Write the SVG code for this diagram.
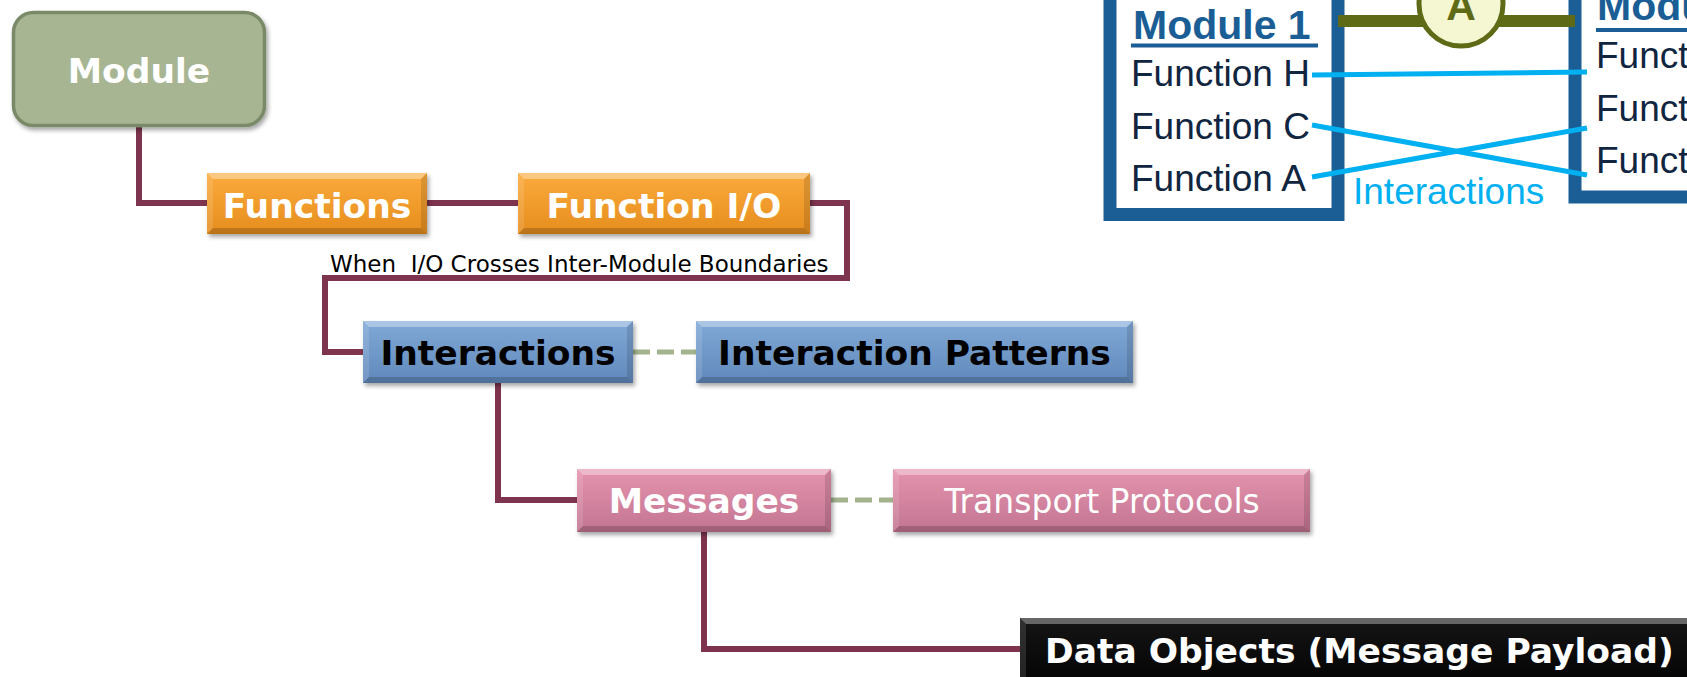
<svg xmlns="http://www.w3.org/2000/svg" width="1687" height="677" viewBox="0 0 1687 677">
<style>
.n{font-family:"DejaVu Sans",Verdana,sans-serif;font-weight:bold;font-size:34.5px;text-anchor:middle}
.w{fill:#fff}
.k{fill:#000}
.lbl{font-family:"DejaVu Sans",Verdana,sans-serif;font-size:23px;fill:#000;white-space:pre}
.ar{font-family:"Liberation Sans",Arial,sans-serif;font-size:37px;fill:#10253f}
.hd{font-family:"Liberation Sans",Arial,sans-serif;font-weight:bold;font-size:41px;fill:#1b5e96}
.bt{fill:#fff;fill-opacity:.35}
.bb{fill:#000;fill-opacity:.18}
.bl{fill:#fff;fill-opacity:.12}
.br{fill:#000;fill-opacity:.12}
.con{fill:none;stroke:#7e344e;stroke-width:6}
.dash{fill:none;stroke:#a3b38e;stroke-width:5;stroke-dasharray:17 7}
.cy{stroke:#00b0f0;stroke-width:5;fill:none}
</style>
<defs>
<linearGradient id="gOr" x1="0" y1="0" x2="0" y2="1"><stop offset="0" stop-color="#fbab3c"/><stop offset="1" stop-color="#e68d1e"/></linearGradient>
<linearGradient id="gBl" x1="0" y1="0" x2="0" y2="1"><stop offset="0" stop-color="#80a9d7"/><stop offset="1" stop-color="#6189bb"/></linearGradient>
<linearGradient id="gPk" x1="0" y1="0" x2="0" y2="1"><stop offset="0" stop-color="#e594ae"/><stop offset="1" stop-color="#c27491"/></linearGradient>
<linearGradient id="gBk" x1="0" y1="0" x2="0" y2="1"><stop offset="0" stop-color="#151515"/><stop offset="1" stop-color="#000"/></linearGradient>
<filter id="sh" x="-10%" y="-20%" width="130%" height="150%"><feDropShadow dx="2" dy="3" stdDeviation="2" flood-color="#000" flood-opacity="0.35"/></filter>
</defs>
<rect width="1687" height="677" fill="#fff"/>

<g id="connectors">
<path class="con" d="M139,127 V203 H207"/>
<path class="con" d="M427,203 H518"/>
<path class="con" d="M810,203 H847 V278 H325 V352 H363"/>
<path class="con" d="M498,383 V500 H577"/>
<path class="con" d="M704,532 V649 H1020"/>
<path class="dash" d="M633,352 H696"/>
<path class="dash" d="M831,500 H893"/>
</g>

<text class="lbl" x="330" y="272">When  I/O Crosses Inter-Module Boundaries</text>

<g id="module">
<rect x="13.5" y="12.5" width="251" height="113" rx="20" fill="#a7b592" stroke="#7a8a68" stroke-width="3.5" filter="url(#sh)"/>
<text class="n w" x="139" y="83">Module</text>
</g>

<g id="functions">
<rect x="207" y="173" width="220" height="61" fill="url(#gOr)" filter="url(#sh)"/>
<polygon class="bt" points="207,173 427,173 421,179 213,179"/>
<polygon class="bb" points="207,234 427,234 421,228 213,228"/>
<polygon class="bl" points="207,173 213,179 213,228 207,234"/>
<polygon class="br" points="427,173 421,179 421,228 427,234"/>
<text class="n w" x="317" y="218">Functions</text>
</g>

<g id="function-io">
<rect x="518" y="173" width="292" height="61" fill="url(#gOr)" filter="url(#sh)"/>
<polygon class="bt" points="518,173 810,173 804,179 524,179"/>
<polygon class="bb" points="518,234 810,234 804,228 524,228"/>
<polygon class="bl" points="518,173 524,179 524,228 518,234"/>
<polygon class="br" points="810,173 804,179 804,228 810,234"/>
<text class="n w" x="664" y="218">Function I/O</text>
</g>

<g id="interactions">
<rect x="363" y="321" width="270" height="62" fill="url(#gBl)" filter="url(#sh)"/>
<polygon class="bt" points="363,321 633,321 627,327 369,327"/>
<polygon class="bb" points="363,383 633,383 627,377 369,377"/>
<polygon class="bl" points="363,321 369,327 369,377 363,383"/>
<polygon class="br" points="633,321 627,327 627,377 633,383"/>
<text class="n k" x="498" y="365">Interactions</text>
</g>

<g id="interaction-patterns">
<rect x="696" y="321" width="437" height="62" fill="url(#gBl)" filter="url(#sh)"/>
<polygon class="bt" points="696,321 1133,321 1127,327 702,327"/>
<polygon class="bb" points="696,383 1133,383 1127,377 702,377"/>
<polygon class="bl" points="696,321 702,327 702,377 696,383"/>
<polygon class="br" points="1133,321 1127,327 1127,377 1133,383"/>
<text class="n k" x="914.5" y="365">Interaction Patterns</text>
</g>

<g id="messages">
<rect x="577" y="469" width="254" height="63" fill="url(#gPk)" filter="url(#sh)"/>
<polygon class="bt" points="577,469 831,469 825,475 583,475"/>
<polygon class="bb" points="577,532 831,532 825,526 583,526"/>
<polygon class="bl" points="577,469 583,475 583,526 577,532"/>
<polygon class="br" points="831,469 825,475 825,526 831,532"/>
<text class="n w" x="704" y="513">Messages</text>
</g>

<g id="transport-protocols">
<rect x="893" y="469" width="417" height="63" fill="url(#gPk)" filter="url(#sh)"/>
<polygon class="bt" points="893,469 1310,469 1304,475 899,475"/>
<polygon class="bb" points="893,532 1310,532 1304,526 899,526"/>
<polygon class="bl" points="893,469 899,475 899,526 893,532"/>
<polygon class="br" points="1310,469 1304,475 1304,526 1310,532"/>
<text x="1102" y="513" style="font-family:'DejaVu Sans',Verdana,sans-serif;font-size:33px;fill:#fff;text-anchor:middle">Transport Protocols</text>
</g>

<g id="data-objects">
<rect x="1020" y="618" width="700" height="80" fill="url(#gBk)"/>
<polygon class="bt" points="1020,618 1720,618 1714,624 1026,624"/>
<polygon class="bl" points="1020,618 1026,624 1026,700 1020,700"/>
<text class="n w" x="1045" y="663" style="text-anchor:start">Data Objects (Message Payload)</text>
</g>

<g id="module-1">
<rect x="1110" y="-20" width="228" height="234.5" fill="#fff" stroke="#1b5e96" stroke-width="13"/>
<text class="hd" x="1133" y="39">Module 1</text>
<rect x="1131" y="43.5" width="187" height="4" fill="#1b5e96"/>
<text class="ar" x="1131" y="86">Function H</text>
<text class="ar" x="1131" y="138.5">Function C</text>
<text class="ar" x="1131" y="191">Function A</text>
</g>

<g id="module-2">
<rect x="1575" y="-20" width="200" height="217" fill="#fff" stroke="#1b5e96" stroke-width="13"/>
<text class="hd" x="1597" y="20">Modu</text>
<rect x="1596" y="28" width="120" height="4" fill="#1b5e96"/>
<text class="ar" x="1596" y="68">Funct</text>
<text class="ar" x="1596" y="121">Funct</text>
<text class="ar" x="1596" y="173">Funct</text>
</g>

<g id="interface-a">
<line x1="1338" y1="21" x2="1575" y2="21" stroke="#5f6a17" stroke-width="12"/>
<circle cx="1461" cy="4" r="42" fill="#f5f7d2" stroke="#5f6a17" stroke-width="5"/>
<text x="1461" y="20" style="font-family:'Liberation Sans',Arial,sans-serif;font-weight:bold;font-size:41px;fill:#5f6a17;text-anchor:middle">A</text>
</g>

<g id="interaction-lines">
<line class="cy" x1="1312" y1="75" x2="1587" y2="72"/>
<line class="cy" x1="1312" y1="125" x2="1587" y2="175"/>
<line class="cy" x1="1312" y1="177" x2="1587" y2="128"/>
<text x="1353" y="204" style="font-family:'Liberation Sans',Arial,sans-serif;font-size:37px;fill:#00b0f0">Interactions</text>
</g>
</svg>
